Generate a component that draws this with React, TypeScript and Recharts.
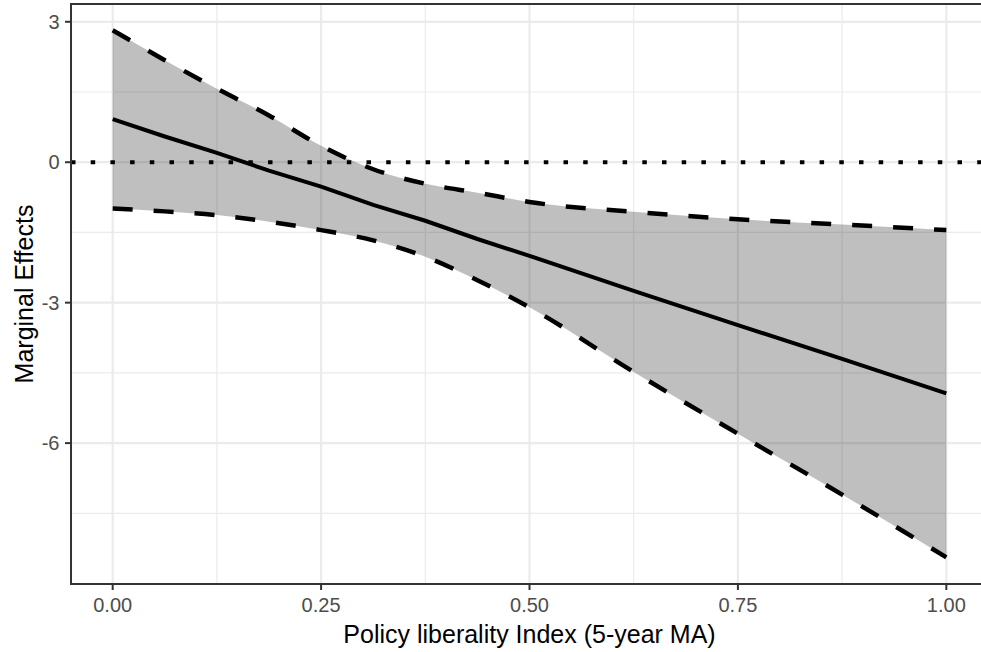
import React from "react";
import {
  ComposedChart,
  Area,
  Line,
  XAxis,
  YAxis,
  CartesianGrid,
  ReferenceLine,
  ReferenceArea,
} from "recharts";

// Policy liberality index values (x)
const xValues = [0, 0.0625, 0.125, 0.1875, 0.25, 0.3125, 0.375, 0.4375, 0.5, 0.625, 0.75, 0.875, 1];
// Marginal effect estimate
const meanValues = [0.92, 0.55, 0.2, -0.18, -0.52, -0.91, -1.25, -1.64, -2.0, -2.75, -3.48, -4.2, -4.94];
// Upper confidence bound
const upperValues = [2.82, 2.18, 1.57, 1.0, 0.35, -0.15, -0.46, -0.65, -0.85, -1.06, -1.22, -1.33, -1.45];
// Lower confidence bound
const lowerValues = [-0.99, -1.05, -1.13, -1.27, -1.45, -1.67, -2.02, -2.52, -3.1, -4.48, -5.8, -7.1, -8.44];

const xTicks = [0, 0.25, 0.5, 0.75, 1];
const xTickLabels = ["0.00", "0.25", "0.50", "0.75", "1.00"];
const xMinorTicks = [0.125, 0.375, 0.625, 0.875];
const yTicks = [-6, -3, 0, 3];
const yMinorTicks = [-7.5, -4.5, -1.5, 1.5];

const X_DOMAIN: [number, number] = [-0.05, 1.05];
const Y_DOMAIN: [number, number] = [-9.01, 3.38];

const data = xValues.map((x, i) => ({
  x,
  mean: meanValues[i],
  upper: upperValues[i],
  lower: lowerValues[i],
  band: [lowerValues[i], upperValues[i]],
}));

const FONT = "'Liberation Sans', Arial, Helvetica, sans-serif";
const AXIS_COLOR = "#333333";

export default function App() {
  return (
    <div
      style={{
        position: "absolute",
        left: 0,
        top: 0,
        width: 981,
        height: 652,
        overflow: "hidden",
        background: "#fff",
      }}
    >
      <ComposedChart
        width={990}
        height={652}
        data={data}
        margin={{ top: 4, right: 2, bottom: 0, left: 0 }}
      >
        <XAxis
          xAxisId="minor"
          dataKey="x"
          type="number"
          domain={X_DOMAIN}
          ticks={xMinorTicks}
          allowDataOverflow
          hide
        />
        <YAxis
          yAxisId="minor"
          type="number"
          domain={Y_DOMAIN}
          ticks={yMinorTicks}
          allowDataOverflow
          hide
        />
        <CartesianGrid
          xAxisId="minor"
          yAxisId="minor"
          stroke="#ebebeb"
          strokeWidth={1.2}
        />
        <CartesianGrid stroke="#ebebeb" strokeWidth={2.2} />
        <XAxis
          dataKey="x"
          type="number"
          domain={X_DOMAIN}
          ticks={xTicks}
          allowDataOverflow
          height={68}
          fontSize={20}
          fontFamily={FONT}
          tickFormatter={(v: number) => xTickLabels[xTicks.indexOf(v)] ?? String(v)}
          tick={{ fill: "#4d4d4d", fontSize: 20, fontFamily: FONT }}
          tickSize={6}
          tickMargin={7.5}
          axisLine={{ stroke: AXIS_COLOR, strokeWidth: 2 }}
          tickLine={{ stroke: AXIS_COLOR, strokeWidth: 2 }}
          label={{
            value: "Policy liberality Index (5-year MA)",
            position: "insideBottom",
            offset: 9,
            fill: "#000",
            fontSize: 25,
            fontFamily: FONT,
          }}
        />
        <YAxis
          type="number"
          domain={Y_DOMAIN}
          ticks={yTicks}
          allowDataOverflow
          width={71}
          fontSize={20}
          fontFamily={FONT}
          tick={{ fill: "#4d4d4d", fontSize: 20, fontFamily: FONT }}
          tickSize={6}
          tickMargin={5.5}
          axisLine={{ stroke: AXIS_COLOR, strokeWidth: 2 }}
          tickLine={{ stroke: AXIS_COLOR, strokeWidth: 2 }}
          label={{
            value: "Marginal Effects",
            angle: -90,
            position: "insideLeft",
            offset: 24,
            textAnchor: "middle",
            fill: "#000",
            fontSize: 25,
            fontFamily: FONT,
          }}
        />
        <Area
          dataKey="band"
          type="monotone"
          fill="#000000"
          fillOpacity={0.25}
          stroke="none"
          isAnimationActive={false}
          dot={false}
          activeDot={false}
        />
        <Line
          dataKey="upper"
          type="monotone"
          stroke="#000"
          strokeWidth={4.5}
          strokeDasharray="20 21"
          dot={false}
          activeDot={false}
          isAnimationActive={false}
        />
        <Line
          dataKey="lower"
          type="monotone"
          stroke="#000"
          strokeWidth={4.5}
          strokeDasharray="20 21"
          dot={false}
          activeDot={false}
          isAnimationActive={false}
        />
        <Line
          dataKey="mean"
          type="linear"
          stroke="#000"
          strokeWidth={4}
          dot={false}
          activeDot={false}
          isAnimationActive={false}
        />
        <ReferenceLine
          y={0}
          stroke="#000"
          strokeWidth={4}
          strokeDasharray="4.5 15.2"
          ifOverflow="visible"
        />
        <ReferenceArea
          x1={X_DOMAIN[0]}
          x2={X_DOMAIN[1]}
          y1={Y_DOMAIN[0]}
          y2={Y_DOMAIN[1]}
          fill="none"
          fillOpacity={0}
          stroke={AXIS_COLOR}
          strokeWidth={2}
          ifOverflow="visible"
        />
      </ComposedChart>
    </div>
  );
}
